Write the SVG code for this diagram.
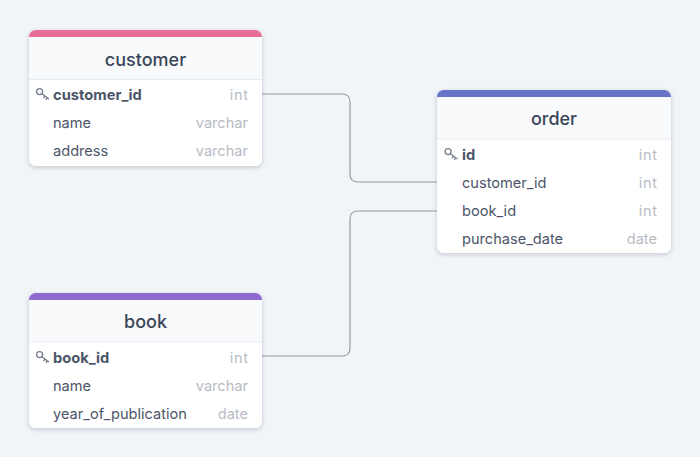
<svg xmlns="http://www.w3.org/2000/svg" width="700" height="457" viewBox="0 0 700 457">
<defs>
<filter id="sh" x="-10%" y="-10%" width="120%" height="125%"><feDropShadow dx="0" dy="1.5" stdDeviation="2" flood-color="#1f2937" flood-opacity="0.22"/></filter>
<g id="key" fill="none" stroke="#7b8290" stroke-width="1.4" stroke-linecap="round"><circle cx="3.600" cy="3.600" r="3"/><path d="M6 5.800 L12.500 10.800 M9 8.200 L7.800 9.600 M11.300 10 L10.200 11.300"/></g>
</defs>
<style>
text{font-family:Inter,"Liberation Sans",sans-serif}
.title{font-size:18px;font-weight:500;fill:#3b4558;text-anchor:middle}
.pk{font-size:14.700px;font-weight:700;fill:#4b5568}
.f{font-size:14.600px;fill:#4b5568}
.t{font-size:14.600px;fill:#b8bcc5;text-anchor:end}
.i{letter-spacing:.6px}
.card{fill:#fff;filter:url(#sh)}
.head{fill:#f8fafc}
.div{stroke:#e7ebf0;stroke-width:1;fill:none}
.conn{fill:none;stroke:#959ca8;stroke-width:1.2}
</style>
<rect width="700" height="457" fill="#f1f5f8"/>
<g id="connectors">
<path class="conn" d="M262 94 H342 Q350 94 350 102 V174 Q350 182 358 182 H438"/>
<path class="conn" d="M262 356 H342 Q350 356 350 348 V219 Q350 211 358 211 H438"/>
</g>
<g id="customer">
<rect class="card" x="29" y="30" width="233" height="136" rx="6.500"/>
<path class="head" d="M29 37 H262 V79.500 H29 Z"/>
<path d="M29 37 V36.500 A6.500 6.500 0 0 1 35.500 30 H255.500 A6.500 6.500 0 0 1 262 36.500 V37 Z" fill="#e76f97"/>
<path class="div" d="M29 79.500 H262"/>
<text class="title" x="145.500" y="65.500">customer</text>
<use href="#key" x="36" y="88"/>
<text class="pk" x="53" y="99.500">customer_id</text><text class="t i" x="248.600" y="99.500">int</text>
<text class="f" x="53" y="128">name</text><text class="t" x="248" y="128">varchar</text>
<text class="f" x="53" y="156">address</text><text class="t" x="248" y="156">varchar</text>
</g>
<g id="order">
<rect class="card" x="437" y="90" width="234" height="163" rx="6.500"/>
<path class="head" d="M437 97 H671 V139 H437 Z"/>
<path d="M437 97 V96.500 A6.500 6.500 0 0 1 443.500 90 H664.500 A6.500 6.500 0 0 1 671 96.500 V97 Z" fill="#6673c9"/>
<path class="div" d="M437 139 H671"/>
<text class="title" x="554" y="124.500">order</text>
<use href="#key" x="444.500" y="148"/>
<text class="pk" x="462" y="159.500">id</text><text class="t i" x="657.600" y="159.500">int</text>
<text class="f" x="462" y="188">customer_id</text><text class="t i" x="657.600" y="188">int</text>
<text class="f" x="462" y="216">book_id</text><text class="t i" x="657.600" y="216">int</text>
<text class="f" x="462" y="244">purchase_date</text><text class="t" x="657" y="244">date</text>
</g>
<g id="book">
<rect class="card" x="29" y="293" width="233" height="135" rx="6.500"/>
<path class="head" d="M29 300 H262 V342 H29 Z"/>
<path d="M29 300 V299.500 A6.500 6.500 0 0 1 35.500 293 H255.500 A6.500 6.500 0 0 1 262 299.500 V300 Z" fill="#9068d0"/>
<path class="div" d="M29 342 H262"/>
<text class="title" x="145.500" y="327.500">book</text>
<use href="#key" x="36" y="351"/>
<text class="pk" x="53" y="362.500">book_id</text><text class="t i" x="248.600" y="362.500">int</text>
<text class="f" x="53" y="391">name</text><text class="t" x="248" y="391">varchar</text>
<text class="f" x="53" y="419">year_of_publication</text><text class="t" x="248" y="419">date</text>
</g>
</svg>
